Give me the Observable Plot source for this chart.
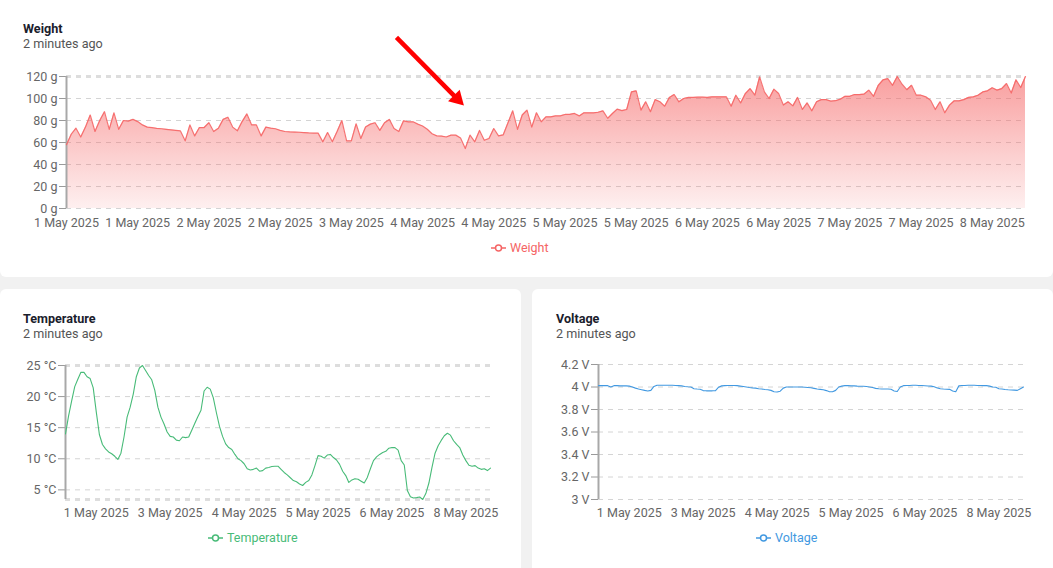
<!DOCTYPE html>
<html><head><meta charset="utf-8">
<script src="https://cdn.jsdelivr.net/npm/d3@7"></script>
<script src="https://cdn.jsdelivr.net/npm/@observablehq/plot@0.6"></script>
<style>
html,body{margin:0;padding:0;}
body{width:1053px;height:568px;overflow:hidden;background:#f1f1f1;position:relative;font-family:Roboto,"Noto Sans",sans-serif;}
.card{position:absolute;background:#fff;border-radius:6px;}
.title{position:absolute;font-size:12.6px;font-weight:700;color:#1a202c;line-height:14px;white-space:nowrap;z-index:2}
.sub{position:absolute;font-size:12.6px;color:#555;line-height:14px;white-space:nowrap;z-index:2}
.chart{position:absolute;z-index:1}
.legend{position:absolute;display:flex;align-items:center;gap:4px;font-size:12.5px;line-height:14px;white-space:nowrap}
svg [aria-label^="y-axis"] line, svg [aria-label="y-axis tick"] path {stroke:#9a9a9a;}
</style></head>
<body>
<div id="root"></div>
<script>
const seriesNames = ["Weight", "Temperature", "Voltage"];
const seriesColors = ["#f56565", "#48bb78", "#4299e1"];
const updatedText = "2 minutes ago";

const weightValues = [
  58, 67.5, 73, 65, 74, 85, 70, 80, 88, 72,
  87, 72, 80, 79.4, 81, 79, 76, 74, 73.5, 72.8,
  72.5, 72, 71.5, 71, 70.5, 61.5, 76, 66, 73.6, 73.6,
  78, 70, 73, 81, 83, 74, 70.6, 79, 86, 76,
  76, 66, 74, 73, 72.5, 71, 70, 69.7, 69.5, 69.3,
  69, 68.7, 68.5, 68.5, 60.6, 69, 60.6, 70, 80, 61.5,
  61.5, 77, 63.6, 74, 76.7, 78, 71, 78, 81, 72.7,
  70, 79.7, 78.8, 78.8, 76.7, 75, 72, 68, 66, 65.8,
  65, 66.7, 66.7, 64, 54.5, 66.7, 60.6, 71, 62, 63.6,
  72.7, 66, 67, 78, 88.8, 72, 85, 89.4, 74, 87,
  78.8, 83.3, 83.3, 84.2, 84.2, 85.5, 85.5, 86.4, 84.2, 87,
  87, 87, 87.5, 88.8, 82, 86.4, 90.3, 89, 90, 106,
  107, 89.4, 97, 88, 99, 97, 93, 101, 103.6, 97,
  100, 101, 101, 101.2, 101.2, 101, 101.5, 101.5, 101.5, 101.5,
  93, 103, 96, 104.5, 109, 103, 119.7, 106, 100, 108.5,
  104.5, 94, 97, 93.3, 101, 90, 96, 88.8, 97, 99,
  99, 97.6, 98, 99.4, 102, 102, 103.6, 103.6, 104, 107.6,
  102, 112, 117, 118, 112, 120, 113, 108, 112, 103,
  103, 101.5, 98.5, 90, 97, 87, 94, 97.9, 97.9, 99,
  101, 101.5, 103, 106, 107, 109.7, 107.6, 109, 113.6, 105,
  117, 110, 120
];
const weightYTicks = [0, 20, 40, 60, 80, 100, 120];
const weightXTickIndex = [0, 15, 30, 45, 60, 75, 90, 105, 120, 135, 150, 165, 180, 195];
const weightXTickLabels = ["1 May 2025", "1 May 2025", "2 May 2025", "2 May 2025", "3 May 2025", "4 May 2025", "4 May 2025",
  "5 May 2025", "5 May 2025", "6 May 2025", "6 May 2025", "7 May 2025", "7 May 2025", "8 May 2025"];

const temperatureValues = [
  14.0, 16.9, 19.3, 21.6, 22.8, 23.9, 23.9, 23.2, 22.9, 21.4,
  17.5, 13.9, 12.3, 11.6, 11.1, 10.8, 10.4, 9.9, 10.9, 13.5,
  16.7, 18.3, 20.4, 23.2, 24.6, 25.0, 24.2, 23.4, 22.7, 21.0,
  18.3, 16.7, 15.6, 14.3, 13.6, 13.5, 13.0, 12.9, 13.5, 13.4,
  13.5, 14.6, 15.7, 16.8, 17.8, 20.9, 21.5, 21.2, 19.8, 17.4,
  15.2, 13.6, 12.4, 11.8, 11.5, 10.7, 10.0, 9.7, 9.2, 8.4,
  8.2, 8.3, 8.5, 8.0, 8.1, 8.5, 8.6, 8.75, 8.8, 8.8,
  8.3, 7.8, 7.4, 6.95, 6.5, 6.3, 5.95, 5.7, 6.2, 6.5,
  7.4, 8.9, 10.5, 10.4, 10.1, 10.6, 10.7, 10.2, 9.8, 9.1,
  8.0, 7.3, 6.2, 6.6, 6.8, 6.7, 6.4, 6.1, 7.0, 8.4,
  9.7, 10.3, 10.7, 11.0, 11.2, 11.7, 11.8, 11.8, 11.4, 9.7,
  9.0, 4.9, 3.9, 3.7, 3.75, 3.85, 3.45, 4.4, 6.1, 8.6,
  10.9, 12.1, 12.95, 13.7, 14.1, 13.8, 12.9, 12.3, 11.8, 10.6,
  9.7, 8.95, 8.8, 8.9, 8.5, 8.3, 8.4, 8.1, 8.5
];
const temperatureYTicks = [5, 10, 15, 20, 25];

const voltageValues = [
  4.012, 4.012, 4.012, 4.012, 4.0, 4.012, 4.012, 4.01, 4.01, 4.01,
  4.008, 4.0, 3.99, 3.982, 3.976, 3.97, 3.965, 3.97, 4.005, 4.015,
  4.015, 4.015, 4.015, 4.015, 4.015, 4.013, 4.012, 4.01, 4.005, 4.002,
  4.0, 3.985, 3.982, 3.98, 3.968, 3.966, 3.966, 3.966, 3.968, 3.998,
  4.01, 4.012, 4.013, 4.013, 4.013, 4.012, 4.008, 4.004, 4.0, 3.995,
  3.992, 3.99, 3.985, 3.982, 3.978, 3.975, 3.97, 3.958, 3.955, 3.963,
  3.99, 4.0, 4.0, 4.0, 4.0, 4.0, 4.0, 3.998, 3.996, 3.994,
  3.988, 3.982, 3.979, 3.976, 3.968, 3.958, 3.958, 3.97, 4.0, 4.008,
  4.012, 4.012, 4.01, 4.01, 4.008, 4.007, 4.006, 4.004, 4.0, 3.996,
  3.988, 3.984, 3.982, 3.982, 3.982, 3.98, 3.965, 3.96, 4.0, 4.012,
  4.013, 4.014, 4.015, 4.015, 4.014, 4.013, 4.011, 4.009, 4.008, 4.002,
  3.992, 3.985, 3.982, 3.98, 3.979, 3.965, 3.958, 4.01, 4.013, 4.014,
  4.015, 4.015, 4.015, 4.014, 4.013, 4.012, 4.012, 4.008, 4.0, 3.998,
  3.985, 3.982, 3.978, 3.975, 3.974, 3.972, 3.97, 3.985, 4.0
];
const voltageYTicks = [3, 3.2, 3.4, 3.6, 3.8, 4, 4.2];

const smallXTickIndex = [10, 34, 58, 82, 106, 130];
const smallXTickLabels = ["1 May 2025", "3 May 2025", "4 May 2025", "5 May 2025", "6 May 2025", "8 May 2025"];

// red annotation arrow, in weight-chart data coordinates (index, grams)
const arrowAnnotation = [{x1: 69.5, y1: 155.5, x2: 82.3, y2: 99.7}];

const root = document.getElementById("root");
function el(tag, cls, css, text) {
  const e = document.createElement(tag);
  if (cls) e.className = cls;
  Object.assign(e.style, css || {});
  if (text != null) e.textContent = text;
  root.appendChild(e);
  return e;
}

function makeChart(o) {
  const data = o.values.map((v, i) => ({i, v}));
  const n = o.values.length;
  const marks = [];
  marks.push(Plot.ruleY(o.grid, {stroke: "#d4d4d4", strokeDasharray: "5,5"}));
  if (o.thick) marks.push(Plot.ruleY(o.thick, {stroke: "#dddddd", strokeWidth: 3, strokeDasharray: "5,5"}));
  if (o.gradId) marks.push(Plot.areaY(data, {x: "i", y: "v", fill: `url(#${o.gradId})`}));
  marks.push(Plot.ruleX([0], {stroke: "#a8a8a8", strokeWidth: 2}));
  marks.push(Plot.lineY(data, {x: "i", y: "v", stroke: o.color, strokeWidth: o.sw, strokeOpacity: o.so || 1}));
  if (o.extra) marks.push(...o.extra);
  const svg = Plot.plot({
    width: o.width, height: o.height,
    marginLeft: o.ml, marginRight: o.mr, marginTop: o.mt, marginBottom: o.mb,
    style: {background: "transparent", fontFamily: "Roboto, sans-serif", fontSize: "12.5px", color: "#666", overflow: "visible"},
    x: {domain: [0, n - 1], ticks: o.xTicks, tickFormat: d => o.xLabels[o.xTicks.indexOf(d)], tickSize: 0, tickPadding: o.xPad, label: null},
    y: {domain: o.yDomain, ticks: o.yTicks, tickFormat: o.yFmt, tickSize: 7, tickPadding: 2, label: null},
    marks
  });
  if (o.gradId) {
    const defs = d3.select(svg).insert("defs", ":first-child");
    const g = defs.append("linearGradient").attr("id", o.gradId)
      .attr("x1", 0).attr("y1", 0).attr("x2", 0).attr("y2", 1);
    g.append("stop").attr("offset", 0).attr("stop-color", o.color).attr("stop-opacity", 0.62);
    g.append("stop").attr("offset", 1).attr("stop-color", o.color).attr("stop-opacity", 0.1);
  }
  const holder = el("div", "chart", {left: o.left + "px", top: o.top + "px"});
  holder.appendChild(svg);
}

function legend(name, color, left, top) {
  const d = el("div", "legend", {left: left + "px", top: top + "px", color});
  d.innerHTML = `<svg width="15" height="10"><line x1="0" y1="5" x2="15" y2="5" stroke="${color}" stroke-width="1.5"/><circle cx="7.5" cy="5" r="3" fill="#fff" stroke="${color}" stroke-width="1.5"/></svg>`;
  const s = document.createElement("span");
  s.textContent = name;
  d.appendChild(s);
}

// cards
el("div", "card", {left: "0px", top: "-20px", width: "1053px", height: "297px"});
el("div", "card", {left: "0px", top: "289px", width: "521px", height: "300px"});
el("div", "card", {left: "532px", top: "289px", width: "521px", height: "300px"});

// titles
el("div", "title", {left: "23px", top: "22px"}, seriesNames[0]);
el("div", "sub", {left: "23px", top: "37px"}, updatedText);
el("div", "title", {left: "23px", top: "312px"}, seriesNames[1]);
el("div", "sub", {left: "23px", top: "327px"}, updatedText);
el("div", "title", {left: "556px", top: "312px"}, seriesNames[2]);
el("div", "sub", {left: "556px", top: "327px"}, updatedText);

// Weight
makeChart({
  values: weightValues, color: seriesColors[0], sw: 1.2, so: 0.9, gradId: "wgrad",
  left: 0, top: 30, width: 1053, height: 205, ml: 66, mr: 28, mt: 46, mb: 27,
  yDomain: [0, 120], yTicks: weightYTicks, yFmt: d => d + " g",
  grid: weightYTicks, thick: [120],
  xTicks: weightXTickIndex, xLabels: weightXTickLabels, xPad: 10,
  extra: [
    Plot.link(arrowAnnotation, {x1: "x1", y1: "y1", x2: "x2", y2: "y2", stroke: "#ff0000", strokeWidth: 4.5}),
    Plot.dot(arrowAnnotation, {x: "x2", y: "y2", symbol: "triangle", r: 6.1, fill: "#ff0000", stroke: null, rotate: 135})
  ]
});

// Temperature
const tDomain = d3.extent(temperatureValues);
makeChart({
  values: temperatureValues, color: seriesColors[1], sw: 1.1,
  left: 0, top: 330, width: 521, height: 195, ml: 65, mr: 31, mt: 35, mb: 26,
  yDomain: tDomain, yTicks: temperatureYTicks, yFmt: d => d + " °C",
  grid: temperatureYTicks.concat([tDomain[0]]), thick: [25, tDomain[0]],
  xTicks: smallXTickIndex, xLabels: smallXTickLabels, xPad: 9
});

// Voltage
makeChart({
  values: voltageValues, color: seriesColors[2], sw: 1.1,
  left: 532, top: 330, width: 521, height: 195, ml: 66, mr: 30, mt: 34, mb: 26,
  yDomain: [3, 4.2], yTicks: voltageYTicks, yFmt: d => (Math.round(d * 10) / 10) + " V",
  grid: voltageYTicks,
  xTicks: smallXTickIndex, xLabels: smallXTickLabels, xPad: 9
});

legend(seriesNames[0], seriesColors[0], 491, 241);
legend(seriesNames[1], seriesColors[1], 208, 531);
legend(seriesNames[2], seriesColors[2], 756, 531);
</script>
</body></html>
